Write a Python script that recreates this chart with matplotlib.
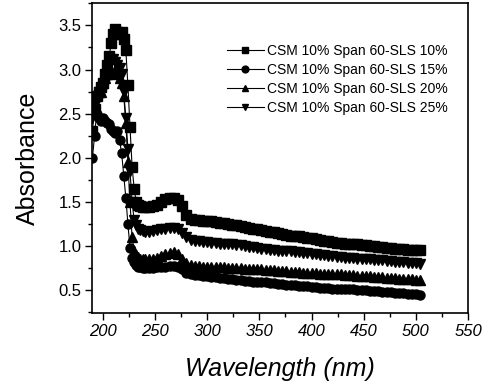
import matplotlib
matplotlib.use("Agg")
import matplotlib.pyplot as plt
from matplotlib.ticker import MultipleLocator

plt.rcParams['font.family'] = ['Liberation Sans', 'DejaVu Sans']

wavelength = list(range(190, 241, 2)) + list(range(244, 505, 4))

labels = ["CSM 10% Span 60-SLS 10%", "CSM 10% Span 60-SLS 15%",
          "CSM 10% Span 60-SLS 20%", "CSM 10% Span 60-SLS 25%"]

# 10 % (squares)
abs_10 = [2.30, 2.55, 2.70, 2.75, 2.80, 2.85, 2.95, 3.05, 3.15, 3.30,
          3.40, 3.46, 3.42, 3.40, 3.43, 3.35, 3.22, 2.82, 2.35, 1.90,
          1.65, 1.50, 1.47, 1.45, 1.44, 1.44,
          1.44, 1.45, 1.47, 1.50, 1.53, 1.55, 1.55, 1.52, 1.45, 1.35,
          1.31, 1.30, 1.30, 1.29, 1.29, 1.28, 1.27, 1.26, 1.26, 1.25,
          1.24, 1.24, 1.23, 1.22, 1.21, 1.20, 1.19, 1.18, 1.17, 1.16,
          1.16, 1.15, 1.14, 1.13, 1.12, 1.12, 1.11, 1.10, 1.09, 1.09,
          1.08, 1.07, 1.06, 1.06, 1.05, 1.04, 1.04, 1.03, 1.03, 1.02,
          1.02, 1.01, 1.01, 1.00, 1.00, 0.99, 0.99, 0.98, 0.98, 0.97,
          0.97, 0.97, 0.96, 0.96, 0.96, 0.96]

# 15 % (circles)
abs_15 = [2.00, 2.25, 2.50, 2.45, 2.42, 2.45, 2.42, 2.40, 2.38, 2.33,
          2.30, 2.28, 2.30, 2.20, 2.05, 1.80, 1.55, 1.25, 0.98, 0.87,
          0.82, 0.79, 0.77, 0.76, 0.75, 0.75,
          0.75, 0.75, 0.76, 0.77, 0.77, 0.78, 0.78, 0.77, 0.74, 0.70,
          0.68, 0.67, 0.67, 0.66, 0.66, 0.65, 0.65, 0.64, 0.64, 0.63,
          0.63, 0.62, 0.62, 0.61, 0.61, 0.60, 0.60, 0.59, 0.59, 0.58,
          0.58, 0.57, 0.57, 0.56, 0.56, 0.56, 0.55, 0.55, 0.55, 0.54,
          0.54, 0.53, 0.53, 0.53, 0.52, 0.52, 0.52, 0.51, 0.51, 0.51,
          0.50, 0.50, 0.50, 0.49, 0.49, 0.49, 0.48, 0.48, 0.48, 0.47,
          0.47, 0.47, 0.46, 0.46, 0.46, 0.45]

# 20 % (up triangles)
abs_20 = [2.55, 2.70, 2.75, 2.80, 2.75, 2.85, 2.90, 2.95, 3.00, 2.98,
          2.95, 3.00, 2.98, 2.90, 2.85, 2.70, 2.40, 1.95, 1.50, 1.10,
          0.95, 0.90, 0.88, 0.86, 0.85, 0.85,
          0.85, 0.86, 0.87, 0.89, 0.91, 0.92, 0.93, 0.91, 0.86, 0.81,
          0.79, 0.78, 0.78, 0.77, 0.77, 0.77, 0.76, 0.76, 0.76, 0.75,
          0.75, 0.75, 0.75, 0.74, 0.74, 0.74, 0.74, 0.74, 0.73, 0.73,
          0.73, 0.72, 0.72, 0.72, 0.71, 0.71, 0.71, 0.70, 0.70, 0.70,
          0.70, 0.69, 0.69, 0.69, 0.68, 0.68, 0.68, 0.67, 0.67, 0.67,
          0.66, 0.66, 0.66, 0.66, 0.65, 0.65, 0.65, 0.64, 0.64, 0.64,
          0.63, 0.63, 0.63, 0.63, 0.62, 0.62]

# 25 % (down triangles)
abs_25 = [2.45, 2.60, 2.70, 2.75, 2.75, 2.80, 2.85, 2.95, 3.05, 3.10,
          3.12, 3.08, 3.05, 3.02, 2.95, 2.75, 2.45, 2.10, 1.85, 1.50,
          1.30, 1.24, 1.20, 1.18, 1.17, 1.16,
          1.16, 1.17, 1.18, 1.19, 1.20, 1.21, 1.21, 1.19, 1.15, 1.10,
          1.07, 1.06, 1.06, 1.05, 1.05, 1.04, 1.04, 1.03, 1.03, 1.02,
          1.02, 1.01, 1.01, 1.00, 0.99, 0.99, 0.98, 0.97, 0.97, 0.96,
          0.96, 0.95, 0.95, 0.94, 0.94, 0.93, 0.93, 0.92, 0.92, 0.91,
          0.91, 0.90, 0.90, 0.89, 0.89, 0.88, 0.88, 0.87, 0.87, 0.87,
          0.86, 0.86, 0.85, 0.85, 0.84, 0.84, 0.84, 0.83, 0.83, 0.82,
          0.82, 0.82, 0.81, 0.81, 0.81, 0.80]

series = [abs_10, abs_15, abs_20, abs_25]
markers = ["s", "o", "^", "v"]

fig = plt.figure(figsize=(4.84, 3.92), dpi=100)
ax = fig.add_axes([0.191, 0.2007, 0.967 - 0.191, 0.9916 - 0.2007])

for vals, m, lab in zip(series, markers, labels):
    ax.plot(wavelength, vals, color="black", lw=0.8, marker=m,
            markersize=6.5, markerfacecolor="black", markeredgecolor="black",
            label=lab)

ax.set_xlim(190, 550)
ax.set_ylim(0.24, 3.75)
ax.xaxis.set_major_locator(MultipleLocator(50))
ax.xaxis.set_minor_locator(MultipleLocator(25))
ax.yaxis.set_major_locator(MultipleLocator(0.5))
ax.yaxis.set_minor_locator(MultipleLocator(0.25))
ax.yaxis.set_major_formatter(matplotlib.ticker.FormatStrFormatter('%.1f'))
ax.tick_params(which="major", direction="out", length=5, width=1, labelsize=12, pad=3)
ax.tick_params(which="minor", direction="out", length=3, width=1)
for t in ax.get_xticklabels():
    t.set_fontstyle("italic")
for s in ax.spines.values():
    s.set_linewidth(1.2)

ax.set_xlabel("Wavelength (nm)", fontsize=18, fontstyle="italic", labelpad=13)
ax.set_ylabel("Absorbance", fontsize=18, labelpad=13)

leg = ax.legend(loc="upper left", bbox_to_anchor=(0.357, 0.868), frameon=False,
                fontsize=10, handlelength=2.7, handletextpad=0.25,
                labelspacing=0.35, borderpad=0, borderaxespad=0, markerscale=0.75)

fig.savefig("out.png", dpi=100)
